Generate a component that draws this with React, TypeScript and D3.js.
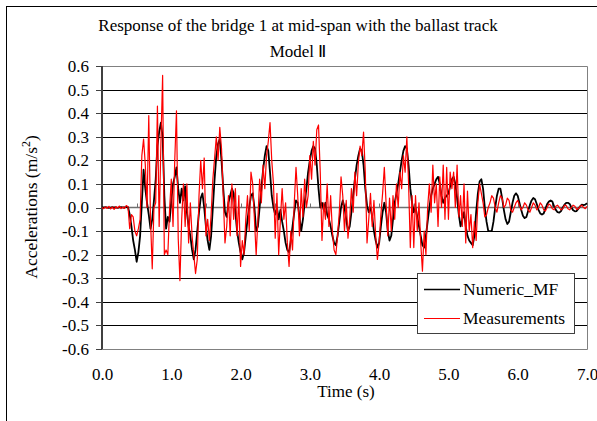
import React, { useEffect, useRef } from 'react';
import * as d3 from 'd3';

// sampling step of both records (s)
const dt = 0.025;

const numericMF = [
  0, 0, 0.002, 0, -0.002, 0, 0.002, 0, 0, -0.002, 0, 0.002, 0, 0, 0.003, 0.002,
  -0.03, -0.08, -0.14, -0.18, -0.23, -0.19, -0.12, 0.02, 0.16, 0.08, 0.02, -0.03, -0.09, -0.05, 0.03, 0.12, 0.26, 0.32, 0.36, 0.3,
  0.05, -0.09, -0.04, -0.06, 0.03, 0.1, 0.13, 0.17, 0.08, 0.02, 0.08, 0.03, 0.09, -0.02, -0.08, -0.12, -0.18, -0.22, -0.18, -0.1,
  -0.02, 0.04, 0.06, 0.0, -0.08, -0.14, -0.18, -0.12, 0.0, 0.12, 0.22, 0.27, 0.29, 0.2, 0.08, -0.02, -0.04, 0.02, 0.05, 0.08,
  0.06, -0.02, -0.1, -0.15, -0.19, -0.22, -0.19, -0.12, -0.05, 0.0, 0.05, 0.06, 0.0, -0.1, -0.08, 0.0, 0.08, 0.16, 0.22, 0.26,
  0.24, 0.15, 0.05, 0.0, -0.03, 0.0, -0.05, -0.01, -0.06, -0.1, -0.15, -0.18, -0.19, -0.14, -0.08, -0.02, 0.03, 0.02, -0.04, -0.1,
  -0.05, 0.02, 0.08, 0.15, 0.2, 0.24, 0.26, 0.25, 0.18, 0.08, 0.0, 0.02, -0.01, 0.02, -0.03, -0.05, -0.08, -0.12, -0.15, -0.16,
  -0.12, -0.06, 0.0, 0.03, 0.0, -0.05, -0.1, -0.08, -0.02, 0.05, 0.12, 0.18, 0.22, 0.25, 0.24, 0.18, 0.08, 0.01, -0.02, 0.0,
  -0.04, -0.1, -0.14, -0.17, -0.15, -0.08, -0.02, 0.02, -0.02, -0.1, -0.14, -0.12, -0.05, 0.02, 0.06, 0.1, 0.15, 0.2, 0.24, 0.26,
  0.25, 0.18, 0.08, 0.02, -0.02, 0.0, -0.04, -0.08, -0.12, -0.16, -0.17, -0.12, -0.06, 0.0, 0.05, 0.08, 0.1, 0.12, 0.13, 0.1,
  0.05, 0.02, 0.04, 0.05, 0.06, 0.09, 0.12, 0.13, 0.1, 0.04, -0.03, -0.08, -0.05, -0.02, -0.08, -0.12, -0.14, -0.15, -0.16, -0.12,
  -0.02, 0.06, 0.11, 0.12, 0.08, 0.0, -0.06, -0.1,
  -0.1, -0.1, -0.06, 0.0, 0.05, 0.08, 0.08, 0.04, -0.01, -0.05, -0.07, -0.06, -0.02, 0.02, 0.05, 0.06, 0.05, 0.02, -0.01, -0.035,
  -0.045, -0.04, -0.015, 0.01, 0.03, 0.04, 0.035, 0.015, -0.01, -0.025, -0.03, -0.025, -0.005, 0.015, 0.025, 0.03, 0.025, 0.005, -0.01, -0.02,
  -0.022, -0.015, 0.0, 0.012, 0.02, 0.02, 0.015, 0.0, -0.012, -0.016, -0.015, -0.005, 0.005, 0.012, 0.01, 0.012, 0.018,
];

const measurements = [
  0, -0.005, 0.003, -0.004, 0.005, -0.006, 0.002, -0.008, 0.004, -0.003, 0.006, -0.005, 0.002, -0.004, 0.008, 0.003,
  -0.09, -0.03, -0.04, -0.1, -0.12, -0.09, -0.05, 0.22, 0.29, 0.18, 0.0, 0.39, -0.05, -0.26, 0.0, 0.02, 0.43, -0.08, 0.27, 0.56,
  -0.2, -0.18, -0.2, -0.01, 0.12, -0.08, 0.2, 0.41, -0.13, -0.31, -0.05, 0.1, -0.08, 0.1, -0.15, 0.02, -0.12, -0.2, -0.28, -0.22,
  0.05, 0.2, 0.08, 0.21, -0.12, -0.05, -0.14, -0.03, 0.12, 0.21, 0.3, 0.2, 0.34, 0.25, 0.05, -0.15, -0.08, 0.05, -0.12, 0.1,
  -0.05, 0.08, -0.12, 0.05, -0.25, -0.14, -0.2, -0.05, 0.05, -0.1, 0.15, 0.1, -0.05, -0.2, -0.05, 0.12, 0.02, 0.18, 0.08, 0.22,
  0.28, 0.36, 0.2, 0.1, -0.13, 0.06, -0.2, -0.05, 0.08, -0.05, 0.02, -0.15, -0.25, -0.1, -0.18, 0.02, 0.17, 0.05, -0.12, 0.08,
  -0.04, 0.12, 0.0, 0.05, 0.22, 0.12, 0.28, 0.18, 0.33, 0.35, 0.15, -0.14, 0.02, -0.05, 0.1, -0.08, 0.05, -0.1, -0.18, -0.2,
  -0.12, -0.02, 0.13, 0.05, -0.1, 0.03, -0.13, -0.05, 0.08, -0.02, 0.15, 0.05, 0.19, 0.26, 0.22, 0.32, 0.15, -0.15, -0.05, 0.06,
  -0.08, 0.03, -0.12, -0.22, -0.15, -0.03, 0.06, 0.17, 0.02, -0.12, 0.04, -0.1, 0.05, -0.05, 0.1, 0.0, 0.15, 0.08, 0.22, 0.15,
  0.3, 0.1, -0.17, 0.05, -0.17, 0.05, -0.1, 0.02, -0.15, -0.27, -0.1, -0.2, 0.0, 0.1, -0.02, 0.18, 0.02, 0.1, -0.08, 0.13,
  0.0, 0.18, -0.05, 0.17, -0.05, 0.15, 0.08, 0.15, 0.0, 0.18, -0.04, 0.05, -0.08, 0.1, -0.15, 0.07, -0.1, -0.03, -0.17, -0.06,
  -0.14, 0.02, 0.1, 0.06, 0.02, -0.04, -0.03, 0.0, 0.02, 0.05, 0.04, 0.0, -0.02, 0.02, 0.05, 0.04, 0.0, 0.01, 0.04, 0.03,
  -0.01, -0.02, 0.0, 0.02, 0.03, 0.01, -0.01, 0.0, 0.02, 0.01, -0.01, -0.02, 0.0, 0.02, 0.01, -0.01, 0.0, 0.02, 0.01, -0.01,
  -0.015, 0.0, 0.015, 0.01, -0.005, -0.01, 0.005, 0.01, 0.0, -0.01, -0.005, 0.01, 0.008, -0.005, -0.01, 0.0, 0.01, 0.005, -0.008, -0.005,
  0.005, 0.01, 0.0, -0.005, 0.005,
];

const xTicks = [0, 1, 2, 3, 4, 5, 6, 7];
const yTicks = [-0.6, -0.5, -0.4, -0.3, -0.2, -0.1, 0, 0.1, 0.2, 0.3, 0.4, 0.5, 0.6];
const seriesNames = ['Numeric_MF', 'Measurements'];
const seriesColors = ['#000000', '#ff0000'];
const titleLines = ['Response of the bridge 1 at mid-span with the ballast track', 'Model \u2161'];

const font = "'Liberation Serif', 'Times New Roman', Times, serif";

export default function App() {
  const ref = useRef<SVGSVGElement>(null);

  useEffect(() => {
    const svg = d3.select(ref.current);
    svg.selectAll('*').remove();

    const x = d3.scaleLinear().domain([0, 7]).range([102, 587]);
    const y = d3.scaleLinear().domain([-0.6, 0.6]).range([349, 66]);
    const crisp = (v: number) => Math.round(v) + 0.5;

    // outer chart frame
    svg.append('rect')
      .attr('x', 6.5).attr('y', 6.5)
      .attr('width', 700).attr('height', 700)
      .attr('fill', '#fff').attr('stroke', '#000').attr('stroke-width', 1);

    // horizontal gridlines
    yTicks.filter(v => Math.abs(v) > 1e-9 && Math.abs(v) < 0.59).forEach(v => {
      svg.append('line')
        .attr('x1', 102).attr('x2', 587)
        .attr('y1', crisp(y(v))).attr('y2', crisp(y(v)))
        .attr('stroke', '#000').attr('stroke-width', 1);
    });

    // plot border (top, right, bottom)
    svg.append('path')
      .attr('d', `M102 ${crisp(y(0.6))} H${crisp(x(7))} V${crisp(y(-0.6))} H102`)
      .attr('fill', 'none').attr('stroke', '#808080').attr('stroke-width', 1);

    // x axis through zero
    svg.append('line')
      .attr('x1', 102).attr('x2', 587)
      .attr('y1', y(0)).attr('y2', y(0))
      .attr('stroke', '#707070').attr('stroke-width', 1.6);
    d3.range(0, 7.01, 0.5).forEach(t => {
      svg.append('line')
        .attr('x1', crisp(x(t))).attr('x2', crisp(x(t)))
        .attr('y1', y(0) - 4).attr('y2', y(0))
        .attr('stroke', '#707070').attr('stroke-width', 1);
    });

    // y axis
    svg.append('line')
      .attr('x1', 102).attr('x2', 102)
      .attr('y1', y(0.6)).attr('y2', y(-0.6))
      .attr('stroke', '#404040').attr('stroke-width', 2);
    yTicks.forEach(v => {
      svg.append('line')
        .attr('x1', 96).attr('x2', 102)
        .attr('y1', crisp(y(v))).attr('y2', crisp(y(v)))
        .attr('stroke', '#404040').attr('stroke-width', 1);
      svg.append('text')
        .attr('x', 89).attr('y', y(v)).attr('dy', '0.35em')
        .attr('text-anchor', 'end')
        .attr('font-family', font).attr('font-size', 17)
        .text(v.toFixed(1));
    });

    // x tick labels (low position)
    xTicks.forEach(t => {
      svg.append('text')
        .attr('x', x(t) + 0.5).attr('y', 380)
        .attr('text-anchor', 'middle')
        .attr('font-family', font).attr('font-size', 17)
        .text(t.toFixed(1));
    });

    // series
    const line = d3.line<number>()
      .x((_, i) => x(i * dt))
      .y(d => y(d));
    [numericMF, measurements].forEach((values, k) => {
      svg.append('path')
        .attr('d', line(values))
        .attr('fill', 'none')
        .attr('stroke', seriesColors[k])
        .attr('stroke-width', k === 0 ? 1.8 : 1.2)
        .attr('stroke-linejoin', 'round');
    });

    // legend
    svg.append('rect')
      .attr('x', 417.5).attr('y', 273.5)
      .attr('width', 157).attr('height', 60)
      .attr('fill', '#fff').attr('stroke', '#404040').attr('stroke-width', 1);
    seriesNames.forEach((name, k) => {
      const ly = 289.5 + k * 29;
      svg.append('line')
        .attr('x1', 424).attr('x2', 460)
        .attr('y1', ly).attr('y2', ly)
        .attr('stroke', seriesColors[k]).attr('stroke-width', k === 0 ? 1.5 : 1.2);
      svg.append('text')
        .attr('x', 463).attr('y', ly + 5.5)
        .attr('font-family', font).attr('font-size', 17.5)
        .text(name);
    });

    // title
    titleLines.forEach((s, k) => {
      svg.append('text')
        .attr('x', 298).attr('y', 31 + k * 26)
        .attr('text-anchor', 'middle')
        .attr('font-family', font).attr('font-size', 17)
        .text(s);
    });

    // axis titles
    svg.append('text')
      .attr('x', 346).attr('y', 397)
      .attr('text-anchor', 'middle')
      .attr('font-family', font).attr('font-size', 17)
      .text('Time (s)');

    const yt = svg.append('text')
      .attr('transform', 'translate(37,207) rotate(-90)')
      .attr('text-anchor', 'middle')
      .attr('font-family', font).attr('font-size', 17.5);
    yt.append('tspan').text('Accelerations (m/s');
    yt.append('tspan').attr('dy', -7).attr('font-size', 12).text('2');
    yt.append('tspan').attr('dy', 7).text(')');
  }, []);

  return (
    <svg
      ref={ref}
      width={597}
      height={421}
      style={{ position: 'absolute', left: 0, top: 0, background: '#fff' }}
    />
  );
}
